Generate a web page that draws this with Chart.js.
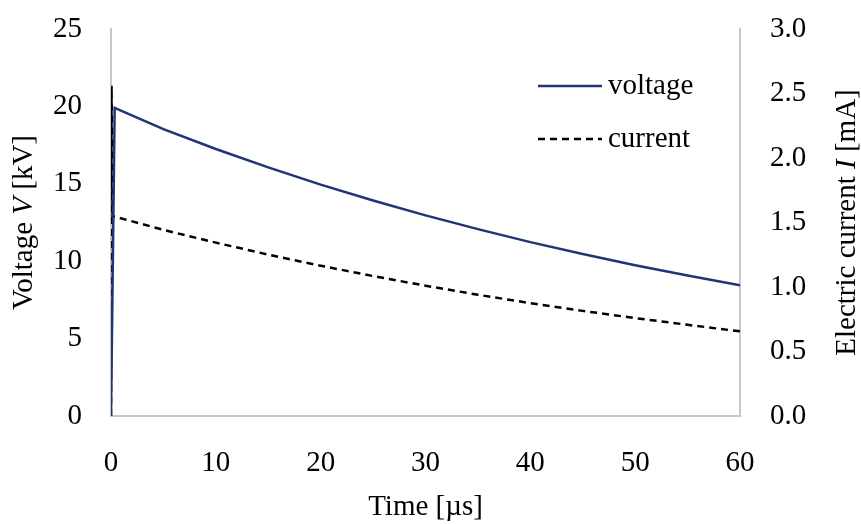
<!DOCTYPE html>
<html>
<head>
<meta charset="utf-8">
<script src="https://cdn.jsdelivr.net/npm/chart.js@4/dist/chart.umd.min.js"></script>
<style>
html,body{margin:0;padding:0;background:#fff;}
canvas{display:block;}
</style>
</head>
<body>
<canvas id="c" width="861" height="524"></canvas>
<script>
// Data
const voltageTime   = [0, 0.35, 5, 10, 15, 20, 25, 30, 35, 40, 45, 50, 55, 60];
const voltageValues = [0, 19.9, 18.53, 17.25, 16.06, 14.95, 13.92, 12.96, 12.07, 11.23, 10.46, 9.74, 9.07, 8.45];
const currentTime   = [0, 0.05, 0.15, 5, 10, 15, 20, 25, 30, 35, 40, 45, 50, 55, 60];
const currentValues = [0, 2.56, 1.55, 1.443, 1.344, 1.251, 1.165, 1.085, 1.010, 0.940, 0.875, 0.815, 0.759, 0.707, 0.656];
const seriesLabels  = ['voltage', 'current'];
const xTicks  = [0, 10, 20, 30, 40, 50, 60];
const yLTicks = [0, 5, 10, 15, 20, 25];
const yRTicks = [0, 0.5, 1.0, 1.5, 2.0, 2.5, 3.0];

const FONT = '"Liberation Serif", "Times New Roman", serif';
const FS = 29;
const AXIS_COLOR = '#c8c8c8';

const toPts = (xs, ys) => xs.map((x, i) => ({x: x, y: ys[i]}));

function drawMixed(ctx, segs, cx, cy, rot) {
  ctx.save();
  ctx.translate(cx, cy);
  ctx.rotate(rot);
  ctx.fillStyle = '#000';
  ctx.textBaseline = 'middle';
  ctx.textAlign = 'left';
  let total = 0;
  const widths = segs.map(s => {
    ctx.font = (s.i ? 'italic ' : '') + FS + 'px ' + FONT;
    const w = ctx.measureText(s.t).width;
    total += w;
    return w;
  });
  let x = -total / 2;
  segs.forEach((s, k) => {
    ctx.font = (s.i ? 'italic ' : '') + FS + 'px ' + FONT;
    ctx.fillText(s.t, x, 0);
    x += widths[k];
  });
  ctx.restore();
}

const decorPlugin = {
  id: 'decor',
  afterDraw(chart) {
    const ctx = chart.ctx;
    const a = chart.chartArea;
    const cy = (a.top + a.bottom) / 2;
    drawMixed(ctx, [{t: 'Voltage '}, {t: 'V', i: true}, {t: ' [kV]'}], 24, cy, -Math.PI / 2);
    drawMixed(ctx, [{t: 'Electric current '}, {t: 'I', i: true}, {t: ' [mA]'}], 847, cy, -Math.PI / 2);
    drawMixed(ctx, [{t: 'Time [\u00b5s]'}], (a.left + a.right) / 2, 507, 0);

    // legend
    const rows = [86, 139];
    chart.data.datasets.forEach((ds, i) => {
      const y = rows[i];
      ctx.save();
      ctx.strokeStyle = ds.borderColor;
      ctx.lineWidth = ds.borderWidth;
      ctx.setLineDash(ds.borderDash || []);
      ctx.beginPath();
      ctx.moveTo(538, y);
      ctx.lineTo(602, y);
      ctx.stroke();
      ctx.restore();
      ctx.save();
      ctx.fillStyle = '#000';
      ctx.font = FS + 'px ' + FONT;
      ctx.textBaseline = 'middle';
      ctx.textAlign = 'left';
      ctx.fillText(ds.label, 608, y);
      ctx.restore();
    });
  }
};

const fitV = w => s => { s.width = w; s.paddingTop = 0; s.paddingBottom = 0; };

new Chart(document.getElementById('c'), {
  type: 'scatter',
  data: {
    datasets: [
      {
        label: seriesLabels[0],
        data: toPts(voltageTime, voltageValues),
        showLine: true,
        borderColor: '#1f3576',
        borderWidth: 2.5,
        pointRadius: 0,
        yAxisID: 'y',
        tension: 0
      },
      {
        label: seriesLabels[1],
        data: toPts(currentTime, currentValues),
        showLine: true,
        borderColor: '#000000',
        borderWidth: 2.5,
        borderDash: [7, 5],
        pointRadius: 0,
        yAxisID: 'y1',
        tension: 0
      }
    ]
  },
  options: {
    responsive: false,
    animation: false,
    layout: {padding: {top: 29, left: 0, right: 0, bottom: 0}},
    plugins: {legend: {display: false}, tooltip: {enabled: false}},
    scales: {
      x: {
        type: 'linear', min: 0, max: 60,
        afterBuildTicks: s => { s.ticks = xTicks.map(v => ({value: v})); },
        afterFit: s => { s.height = 108; s.paddingLeft = 0; s.paddingRight = 0; },
        grid: {display: false, drawTicks: false},
        border: {display: true, color: AXIS_COLOR, width: 2},
        ticks: {color: '#000', font: {family: FONT, size: FS}, padding: 30, maxRotation: 0}
      },
      y: {
        position: 'left', min: 0, max: 25,
        afterBuildTicks: s => { s.ticks = yLTicks.map(v => ({value: v})); },
        afterFit: fitV(111),
        grid: {display: false, drawTicks: false},
        border: {display: true, color: AXIS_COLOR, width: 2},
        ticks: {color: '#000', font: {family: FONT, size: FS}, padding: 29}
      },
      y1: {
        position: 'right', min: 0, max: 3,
        afterBuildTicks: s => { s.ticks = yRTicks.map(v => ({value: v})); },
        afterFit: fitV(121),
        grid: {display: false, drawTicks: false},
        border: {display: true, color: AXIS_COLOR, width: 2},
        ticks: {color: '#000', font: {family: FONT, size: FS}, padding: 30,
                callback: v => Number(v).toFixed(1)}
      }
    }
  },
  plugins: [decorPlugin]
});
</script>
</body>
</html>
